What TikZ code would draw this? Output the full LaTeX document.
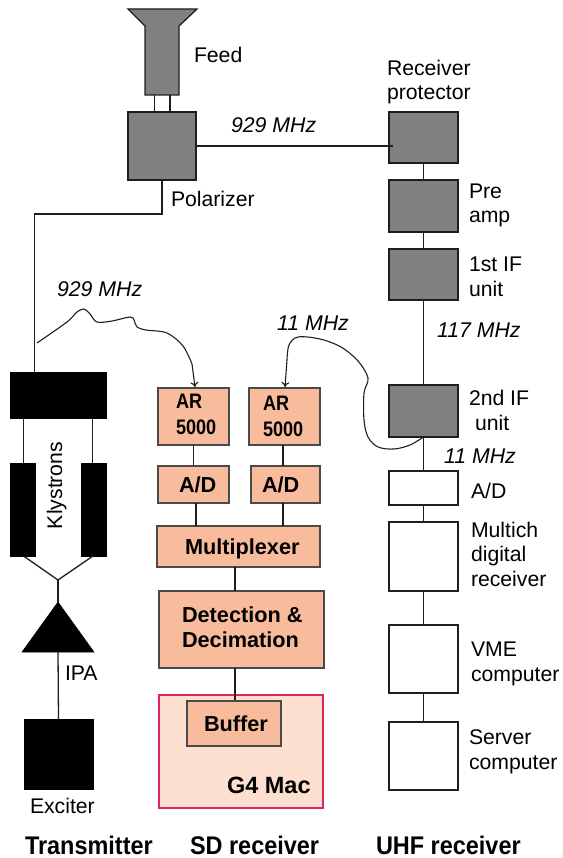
\documentclass[tikz,border=0pt]{standalone}
\usepackage{fontspec}
\setmainfont{Liberation Sans}
\usetikzlibrary{arrows.meta}
\definecolor{ink}{HTML}{1E1E1E}
\definecolor{gr}{HTML}{808080}
\definecolor{sal}{HTML}{F8BC9C}
\definecolor{pale}{HTML}{FDDFCF}
\definecolor{redb}{HTML}{E0245E}
\definecolor{sedge}{HTML}{4A4A4A}
\tikzset{
  wire/.style={draw=ink,line width=1.3pt},
  graybox/.style={draw=ink,fill=gr,line width=1.3pt},
  whitebox/.style={draw=ink,fill=white,line width=1.3pt},
  blackbox/.style={draw=black,fill=black,line width=0.5pt},
  salbox/.style={draw=sedge,fill=sal,line width=1.3pt},
  macbox/.style={draw=redb,fill=pale,line width=1.2pt},
  lbl/.style={inner sep=0pt,outer sep=0pt,anchor=base west,align=left,font=\fontsize{21.2}{24.5}\selectfont,text=black},
  ilbl/.style={lbl,font=\fontsize{21.3}{24.5}\selectfont\itshape},
  blbl/.style={lbl,font=\fontsize{21.7}{24.5}\selectfont\bfseries},
  arlbl/.style={lbl,font=\fontsize{21}{26}\selectfont\bfseries,xscale=0.86},
  maclbl/.style={lbl,font=\fontsize{23.5}{26}\selectfont\bfseries},
  head/.style={lbl,font=\fontsize{25.5}{26}\selectfont\bfseries,xscale=0.92,text depth=0pt},
}
% box from two corners
\newcommand{\bx}[6]{%
  \pgfmathsetmacro{\bxcx}{(#3+#5)/2}\pgfmathsetmacro{\bxcy}{(#4+#6)/2}%
  \pgfmathsetmacro{\bxw}{#5-#3}\pgfmathsetmacro{\bxh}{#6-#4}%
  \node[#2,inner sep=0pt,outer sep=0pt,minimum width=\bxw pt,minimum height=\bxh pt] (#1) at (\bxcx,\bxcy) {};}
\begin{document}
\begin{tikzpicture}[x=1pt,y=-1pt]
\useasboundingbox (0,0) rectangle (562,858);
% Feed & polarizer
\draw[graybox] (128,9) -- (197,9) -- (179,26) -- (179,95) -- (145,95) -- (145,26) -- cycle;
\bx{pol}{graybox}{128}{112}{196}{180}
\coordinate (fa) at (154.5,95); \coordinate (fb) at (170,95);
\draw[wire] (fa) -- (fa |- pol.north);
\draw[wire] (fb) -- (fb |- pol.north);
% Transmitter
\bx{combiner}{blackbox}{10}{372}{106}{418}
\bx{klyA}{blackbox}{10}{463}{35}{556}
\bx{klyB}{blackbox}{81}{463}{106}{556}
\bx{exciter}{blackbox}{24}{719}{93}{789}
\coordinate (ipaT) at (58,602); \coordinate (ipaB) at (58,652);
\draw[blackbox] (ipaT) -- (94,652) -- (22,652) -- cycle;
\coordinate (join) at (58,580);
\coordinate (kAo) at (23.5,556); \coordinate (kBo) at (93,556);
\draw[wire] (pol.south) -- (162,214) -- (34.5,214) -- (34.5,372);
\draw[wire] (23.5,418) -- (23.5,463);
\draw[wire] (92.5,418) -- (92.5,463);
\draw[wire] (kAo) -- (join) -- (kBo);
\draw[wire] (join) -- (ipaT);
\draw[wire] (ipaB) -- (exciter.north);
% SD receiver
\bx{mac}{macbox}{159}{695}{323}{808}
\bx{arA}{salbox}{158}{388}{229}{445}
\bx{arB}{salbox}{249}{388}{320}{445}
\bx{adA}{salbox}{158}{466}{229}{503}
\bx{adB}{salbox}{251}{466}{320}{503}
\bx{mux}{salbox}{157}{526}{320}{567}
\bx{det}{salbox}{159}{591}{324}{668}
\draw[wire] (193.5,445) -- (193.5,466);
\draw[wire] (283,445) -- (283,466);
\draw[wire] (196,503) -- (196,526);
\draw[wire] (283,503) -- (283,526);
\draw[wire] (235,567) -- (235,591);
\draw[wire] (235,668) -- (235,701);
\bx{buf}{salbox}{187}{701}{281}{746}
% UHF receiver
\bx{rp}{graybox}{389}{112}{458}{163}
\bx{pre}{graybox}{389}{180}{458}{232}
\bx{ifa}{graybox}{389}{249}{458}{300}
\bx{ifb}{graybox}{389}{385}{458}{437}
\bx{uad}{whitebox}{389}{471}{458}{505}
\bx{mc}{whitebox}{389}{522}{458}{591}
\bx{vme}{whitebox}{389}{625}{458}{693}
\bx{srv}{whitebox}{389}{722}{458}{790}
\draw[wire] (rp.south) -- (pre.north);
\draw[wire] (pre.south) -- (ifa.north);
\draw[wire] (ifa.south) -- (ifb.north);
\draw[wire] (ifb.south) -- (uad.north);
\draw[wire] (uad.south) -- (mc.north);
\draw[wire] (mc.south) -- (vme.north);
\draw[wire] (vme.south) -- (srv.north);
\coordinate (rpin) at (393,146);
\draw[wire] (pol.east |- rpin) -- (rpin);
% Curved tap lines
\coordinate (tap) at (37,343);
\draw[wire,line width=1.1pt,-{To[length=5pt,width=8pt]}] plot[smooth,tension=0.55] coordinates
 {(tap) (67,322) (77,312) (84,309) (90,314) (97,322) (112,321) (130,317) (134,320) (137,327) (146,330) (167,333) (183,346) (192,364)} -- (195,387);
\draw[wire,line width=1.1pt,-{To[length=5pt,width=8pt]}] plot[smooth,tension=0.55] coordinates
 {(ifb.south) (410,445) (394,449) (378,447) (368,437) (364,420) (364,393) (368,378) (358,361) (341,347) (320,339) (298,337) (289,345) (287,360)} -- (285,387);
% Labels
\node[lbl] (tFeed) at (194,63) {Feed};
\node[lbl] (tPol) at (171,207) {Polarizer};
\node[ilbl] (tA) at (231,133) {929 MHz};
\node[ilbl] (tB) at (57,296) {929 MHz};
\node[ilbl] (tC) at (277,330) {11 MHz};
\node[ilbl] (tD) at (437,337) {117 MHz};
\node[ilbl] (tE) at (444,463) {11 MHz};
\node[lbl,rotate=90] (tKly) at (62,529) {Klystrons};
\node[lbl] (tIPA) at (65,680) {IPA};
\node[lbl] (tExc) at (30,813) {Exciter};
\node[lbl] (tRP) at (387,100) {Receiver\\protector};
\node[lbl] (tPre) at (469,223) {Pre\\amp};
\node[lbl] (tIFa) at (469,296) {1st IF\\unit};
\node[lbl] (tIFb) at (469,430) {2nd IF\\\hspace*{6pt}unit};
\node[lbl] (tUad) at (471,498) {A/D};
\node[lbl] (tMc) at (471,586) {Multich\\digital\\receiver};
\node[lbl] (tVme) at (471,681) {VME\\computer};
\node[lbl] (tSrv) at (469,769) {Server\\computer};
\node[arlbl] (tArA) at (176,434) {AR\\5000};
\node[arlbl] (tArB) at (263,436) {AR\\5000};
\node[blbl] (tAdA) at (179,492) {A/D};
\node[blbl] (tAdB) at (262,492) {A/D};
\node[blbl] (tMux) at (185,554) {Multiplexer};
\node[blbl] (tDet) at (182,647) {Detection \&\\Decimation};
\node[blbl] (tBuf) at (204,731) {Buffer};
\node[maclbl] (tMac) at (227,793) {G4 Mac};
\node[head] (hT) at (25,854) {Transmitter};
\node[head] (hS) at (190,854) {SD receiver};
\node[head] (hU) at (376,854) {UHF receiver};
\end{tikzpicture}
\end{document}
